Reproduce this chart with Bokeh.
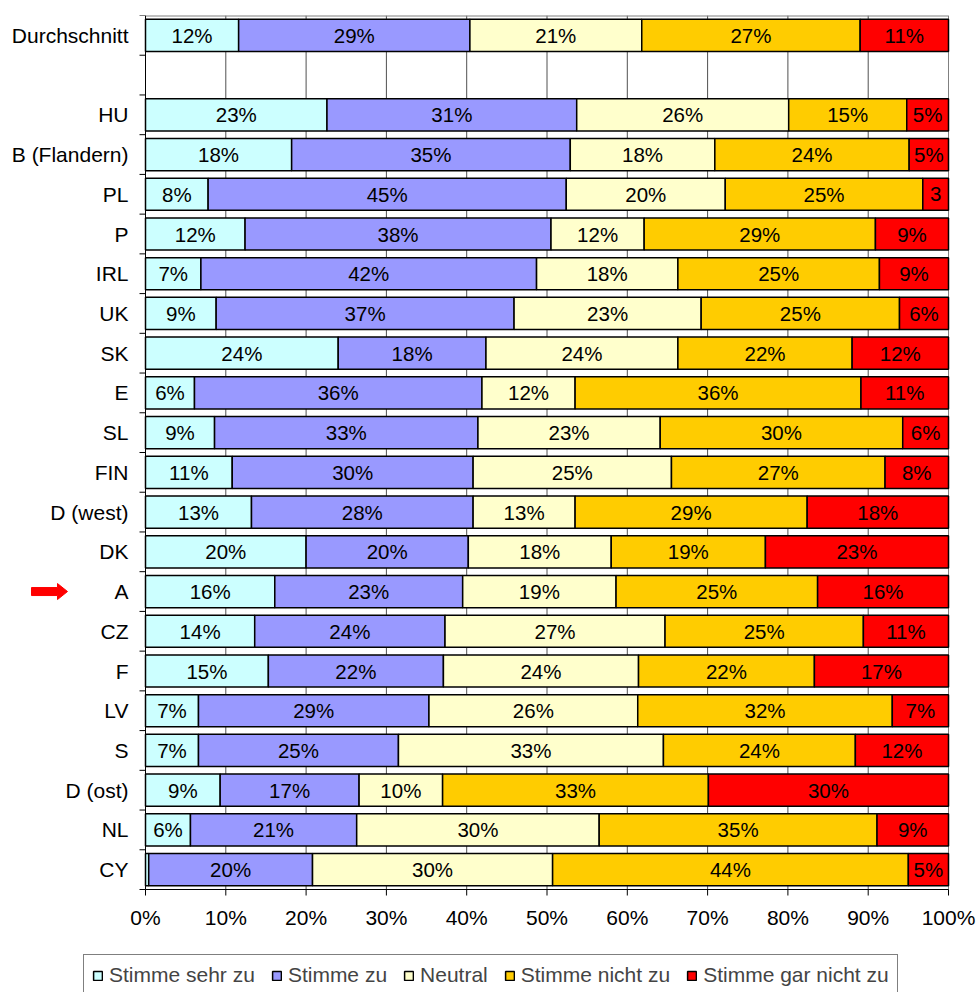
from bokeh.plotting import figure
from bokeh.models import Range1d, ColumnDataSource, Legend, LegendItem
from bokeh.core.properties import value
from bokeh.embed import file_html
from bokeh.resources import INLINE

categories = ["Durchschnitt", "", "HU", "B (Flandern)", "PL", "P", "IRL", "UK", "SK", "E",
              "SL", "FIN", "D (west)", "DK", "A", "CZ", "F", "LV", "S", "D (ost)", "NL", "CY"]
series = ["Stimme sehr zu", "Stimme zu", "Neutral", "Stimme nicht zu", "Stimme gar nicht zu"]
colors = ["#CCFFFF", "#9999FF", "#FFFFCC", "#FFCC00", "#FF0000"]

stimme_sehr_zu = [11.6, None, 22.6, 18.2, 7.8, 12.4, 6.9, 8.8, 24.0, 6.1, 8.6, 10.8, 13.2, 20.0,
                  16.1, 13.6, 15.3, 6.6, 6.6, 9.3, 5.6, 0.4]
stimme_zu = [28.8, None, 31.1, 34.7, 44.6, 38.1, 41.8, 37.1, 18.4, 35.8, 32.8, 30.0, 27.6, 20.2,
             23.4, 23.7, 21.8, 28.7, 24.9, 17.3, 20.7, 20.4]
neutral = [21.4, None, 26.4, 18.0, 19.8, 11.6, 17.6, 23.3, 23.9, 11.6, 22.7, 24.7, 12.7, 17.8,
           19.1, 27.4, 24.3, 26.0, 33.0, 10.4, 30.2, 29.9]
stimme_nicht_zu = [27.2, None, 14.7, 24.2, 24.6, 28.8, 25.1, 24.7, 21.7, 35.6, 30.2, 26.6, 28.9, 19.2,
                   25.1, 24.7, 21.9, 31.7, 23.9, 33.1, 34.6, 44.3]
stimme_gar_nicht_zu = [11.0, None, 5.2, 4.9, 3.2, 9.1, 8.6, 6.1, 12.0, 10.9, 5.7, 7.9, 17.6, 22.8,
                       16.3, 10.6, 16.7, 7.0, 11.6, 29.9, 8.9, 5.0]
x_ticks = [0, 10, 20, 30, 40, 50, 60, 70, 80, 90, 100]
highlight = "A"

values = [stimme_sehr_zu, stimme_zu, neutral, stimme_nicht_zu, stimme_gar_nicht_zu]
n = len(categories)
centers = [n - 0.5 - i for i in range(n)]
bounds = [float(b) for b in range(n + 1)]

FONT = "Liberation Sans"
BL, BT = 5, 15                   # canvas borders (px)
AXIS_GAP, BAR_W, RIGHT_GAP = 140, 803, 30   # px: row-label room, 0..100 % width, right room
ROWS_H, BELOW_H = 874, 103       # px: height of the rows area, room below it (axis + legend)
FW, FH = AXIS_GAP + BAR_W + RIGHT_GAP, ROWS_H + BELOW_H
PX = BAR_W / 100.0               # px per percent
RY = n / ROWS_H                  # data units per px (vertical)

p = figure(frame_width=FW, frame_height=FH,
           x_range=Range1d(-AXIS_GAP / PX, 100 + RIGHT_GAP / PX),
           y_range=Range1d(-BELOW_H * RY, n), output_backend="svg", toolbar_location=None,
           min_border_left=BL, min_border_top=BT, min_border_right=0, min_border_bottom=0,
           background_fill_color="white", border_fill_color="white")
p.outline_line_color = None
p.xaxis.visible = False
p.yaxis.visible = False
p.xgrid.visible = False
p.ygrid.visible = False

# vertical gridlines inside the bar area
grid_x = x_ticks[1:-1]
p.segment(x0=grid_x, y0=[0] * len(grid_x), x1=grid_x, y1=[n] * len(grid_x),
          line_color="#505050", line_width=1)

# plot-area border (top and right, gray)
p.segment(x0=[0], y0=[n], x1=[100], y1=[n], line_color="#808080", line_width=2)
p.segment(x0=[100], y0=[0], x1=[100], y1=[n], line_color="#808080", line_width=1)

cum = [0.0] * n
items = []
label_x, label_y, label_t = [], [], []
for s, col, vals in zip(series, colors, values):
    left, right, ys = [], [], []
    for i, v in enumerate(vals):
        if v is None:
            continue
        left.append(cum[i])
        right.append(cum[i] + v)
        ys.append(centers[i])
        if v >= 1:
            label_x.append(cum[i] + v / 2)
            label_y.append(centers[i])
            label_t.append(f"{round(v)}%" if v >= 4 else f"{round(v)}")
        cum[i] += v
    src = ColumnDataSource(dict(left=left, right=right, y=ys))
    r = p.hbar(y="y", left="left", right="right", height=0.81, source=src,
               fill_color=col, line_color="black", line_width=1.5)
    items.append(LegendItem(label=s, renderers=[r]))

lsrc = ColumnDataSource(dict(x=label_x, y=label_y, t=label_t))
p.text(x="x", y="y", text="t", source=lsrc, text_align="center", text_baseline="middle",
       text_font=value(FONT), text_font_size="20.5px", text_color="black")

# category axis at the 0 % line: line, boundary ticks, row labels
p.segment(x0=[0], y0=[0], x1=[0], y1=[n], line_color="black", line_width=1)
p.segment(x0=[-6 / PX] * len(bounds), y0=bounds, x1=[0] * len(bounds), y1=bounds,
          line_color="black", line_width=1)
csrc = ColumnDataSource(dict(x=[-17 / PX] * n, y=centers, t=categories))
p.text(x="x", y="y", text="t", source=csrc, text_align="right", text_baseline="middle",
       text_font=value(FONT), text_font_size="21px", text_color="black")

# percentage axis below the rows: line, ticks, labels
p.segment(x0=[0], y0=[0], x1=[100], y1=[0], line_color="black", line_width=1)
p.segment(x0=x_ticks, y0=[0] * len(x_ticks), x1=x_ticks, y1=[-6 * RY] * len(x_ticks),
          line_color="black", line_width=1)
tsrc = ColumnDataSource(dict(x=x_ticks, y=[-28 * RY] * len(x_ticks),
                             t=[f"{t}%" for t in x_ticks]))
p.text(x="x", y="y", text="t", source=tsrc, text_align="center", text_baseline="middle",
       text_font=value(FONT), text_font_size="21px", text_color="black")

# red marker arrow at the highlighted row (pixel offsets from the 0 % line)
ya = centers[categories.index(highlight)]
tail, neck, tip, sh, hh = -114, -88, -78, 4, 8
arrow_x = [v / PX for v in (tail, neck, neck, tip, neck, neck, tail)]
arrow_y = [ya + d * RY for d in (sh, sh, hh, 0, -hh, -sh, -sh)]
p.patch(x=arrow_x, y=arrow_y, fill_color="#FF0000", line_color="#FF0000", line_width=1)

# legend box below the axis (offset in px from the frame's bottom-left corner)
legend = Legend(items=items, orientation="horizontal", location=(78, -4),
                label_text_font=FONT, label_text_font_size="21px",
                glyph_width=11, glyph_height=11, label_standoff=6, spacing=16,
                padding=8, margin=0, border_line_color="black", border_line_width=1,
                label_height=21, background_fill_alpha=1)
p.add_layout(legend, "center")

open("out.html", "w").write(file_html(p, INLINE))
